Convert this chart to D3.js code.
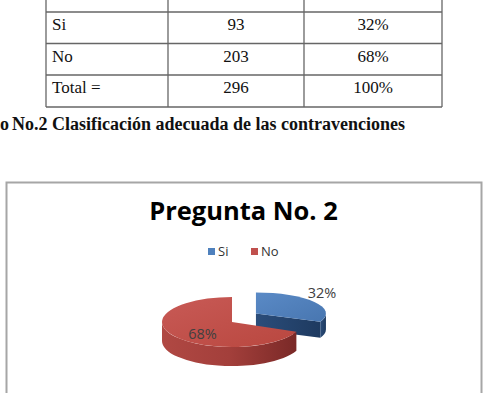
<!DOCTYPE html>
<html>
<head>
<meta charset="utf-8">
<script src="https://cdn.jsdelivr.net/npm/d3@7"></script>
<style>
  body { margin: 0; background: #fff; }
  svg { display: block; }
</style>
</head>
<body>
<svg id="chart" width="484" height="393"></svg>
<script>
// table rows (respuesta, frecuencia, porcentaje)
const rowLabels = ["Si", "No", "Total ="]
const rowCounts = ["93", "203", "296"]
const rowPercents = ["32%", "68%", "100%"]

// pie data
const categories = ["Si", "No"]
const values = [93, 203]
const pctLabels = ["32%", "68%"]
const colors = ["#4f81bd", "#c0504d"]

const chartTitle = "Pregunta No. 2"
const caption = "No.2 Clasificación adecuada de las contravenciones"

const svg = d3.select("#chart")

// ---- table ----
const colX = [46, 168, 304, 442]
const rowY = [0, 12, 43.5, 75, 107]
const tbl = svg.append("g").attr("stroke", "#666").attr("stroke-width", 1.3)
rowY.slice(1).forEach(y => {
    tbl.append("line").attr("x1", colX[0]).attr("x2", colX[3]).attr("y1", y).attr("y2", y)
})
colX.forEach(x => {
    tbl.append("line").attr("x1", x).attr("x2", x).attr("y1", 0).attr("y2", rowY[4])
})
const tfont = "'Liberation Serif', 'Times New Roman', serif"
rowLabels.forEach((lab, i) => {
    let yb = rowY[i + 1] + 18
    svg.append("text").attr("x", 52).attr("y", yb).text(lab)
        .attr("font-family", tfont).attr("font-size", 17).attr("fill", "#111")
    svg.append("text").attr("x", (colX[1] + colX[2]) / 2).attr("y", yb).text(rowCounts[i])
        .attr("text-anchor", "middle").attr("font-family", tfont).attr("font-size", 17).attr("fill", "#111")
    svg.append("text").attr("x", (colX[2] + colX[3]) / 2).attr("y", yb).text(rowPercents[i])
        .attr("text-anchor", "middle").attr("font-family", tfont).attr("font-size", 17).attr("fill", "#111")
})

// caption (the first word is mostly cut off in the source)
svg.append("text").attr("x", 0).attr("y", 130).text("o")
    .attr("font-family", tfont).attr("font-weight", "bold").attr("font-size", 18).attr("fill", "#111")
svg.append("text").attr("x", 12).attr("y", 130).text(caption)
    .attr("font-family", tfont).attr("font-weight", "bold").attr("font-size", 18).attr("fill", "#111")

// ---- chart frame ----
svg.append("rect").attr("x", 6.5).attr("y", 182.5).attr("width", 475).attr("height", 240)
    .attr("fill", "#fff").attr("stroke", "#a6a6a6").attr("stroke-width", 2)

const sfont = "'Open Sans', Lato, sans-serif"
svg.append("text").attr("x", 243.5).attr("y", 220).attr("text-anchor", "middle").text(chartTitle)
    .attr("font-family", sfont).attr("font-weight", "bold").attr("font-size", 25.5).attr("fill", "#000")

// legend
const legendX = [208, 251]
categories.forEach((c, i) => {
    svg.append("rect").attr("x", legendX[i]).attr("y", 248).attr("width", 7).attr("height", 7).attr("fill", colors[i])
    svg.append("text").attr("x", legendX[i] + 10).attr("y", 256).text(c)
        .attr("font-family", sfont).attr("font-size", 13).attr("fill", "#333")
})

// ---- 3d pie ----
const cx = 232, cy = 322, rx = 70, ry = 25, depth = 19
// explode offset as fraction of radius (x, y), y larger to fake perspective
const explode = [[0.41, 0.62], [0, 0]]
// the exploded slice sits farther back, so it looks a bit flatter
const flatten = [0.84, 1]

const defs = svg.append("defs")
function grad(id, stops, x2, y2) {
    let g = defs.append("linearGradient").attr("id", id)
        .attr("x1", 0).attr("y1", 0).attr("x2", x2).attr("y2", y2)
    stops.forEach(s => g.append("stop").attr("offset", s[0]).attr("stop-color", s[1]))
}
grad("topSi", [[0, "#5a8ac6"], [1, "#4876b0"]], 1, 1)
grad("sideSi", [[0, "#2b4d7a"], [1, "#1e3a60"]], 1, 0)
grad("topNo", [[0, "#c85a56"], [1, "#b9473f"]], 1, 1)
grad("sideNo", [[0, "#b04843"], [0.5, "#a33f3b"], [1, "#7a2927"]], 1, 0)
const topFill = ["url(#topSi)", "url(#topNo)"]
const sideFill = ["url(#sideSi)", "url(#sideNo)"]

const arcs = d3.pie().sort(null).startAngle(0).endAngle(2 * Math.PI)(values)

// draw blue (back, exploded) first, then red
arcs.forEach((d, i) => {
    let mid = (d.startAngle + d.endAngle) / 2
    let ox = cx + explode[i][0] * rx * Math.sin(mid)
    let oy = cy - explode[i][1] * ry * Math.cos(mid)
    let sry = ry * flatten[i], sdep = depth * flatten[i]
    let pt = (a, h) => [ox + rx * Math.sin(a), oy - sry * Math.cos(a) + h]
    let large = (d.endAngle - d.startAngle) > Math.PI ? 1 : 0
    let g = svg.append("g")

    // cut faces facing the viewer
    if (Math.sin(d.endAngle) > 0.01) {
        g.append("path").attr("d", `M${ox},${oy}L${pt(d.endAngle, 0)}L${pt(d.endAngle, sdep)}L${ox},${oy + sdep}Z`)
            .attr("fill", sideFill[i])
    }
    if (Math.sin(d.startAngle) < -0.01) {
        g.append("path").attr("d", `M${ox},${oy}L${pt(d.startAngle, 0)}L${pt(d.startAngle, sdep)}L${ox},${oy + sdep}Z`)
            .attr("fill", sideFill[i])
    }
    // outer wall, front half only
    let a0 = Math.max(d.startAngle, Math.PI / 2), a1 = Math.min(d.endAngle, 3 * Math.PI / 2)
    if (a1 > a0) {
        g.append("path")
            .attr("d", `M${pt(a0, 0)}A${rx},${sry} 0 0 1 ${pt(a1, 0)}L${pt(a1, sdep)}A${rx},${sry} 0 0 0 ${pt(a0, sdep)}Z`)
            .attr("fill", sideFill[i])
    }
    // top face
    g.append("path")
        .attr("d", `M${ox},${oy}L${pt(d.startAngle, 0)}A${rx},${sry} 0 ${large} 1 ${pt(d.endAngle, 0)}Z`)
        .attr("fill", topFill[i])
})

// data labels
const labelPos = [[322, 292.5], [202.5, 333]]
pctLabels.forEach((t, i) => {
    svg.append("text").attr("x", labelPos[i][0]).attr("y", labelPos[i][1])
        .attr("text-anchor", "middle").attr("dominant-baseline", "central").text(t)
        .attr("font-family", sfont).attr("font-size", 14.5).attr("fill", "#404040")
})
</script>
</body>
</html>
